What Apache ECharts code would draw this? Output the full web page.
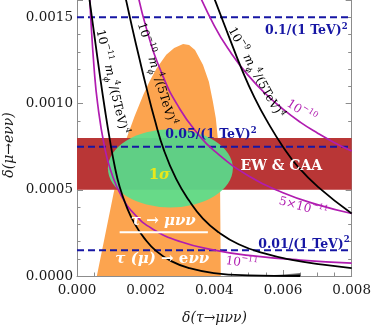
<!DOCTYPE html>
<html><head><meta charset="utf-8">
<script src="https://cdn.jsdelivr.net/npm/echarts@6/dist/echarts.min.js"></script>
<style>html,body{margin:0;padding:0;background:#fff}#c{width:374px;height:326px}</style>
</head><body><div id="c"></div>
<script>
// ---------- data ----------
const xRange = [0, 0.008];
const yRange = [0, 0.0016];
const xTickStep = 0.002;
const yTickStep = 0.0005;

const ewBand = [0.0005, 0.0008];            // EW & CAA band in delta(mu->e nu nu)
const dashedLevels = [0.00015, 0.00075, 0.0015];
const ellipseCenter = [0.00272, 0.000624];  // 1 sigma region
const ellipseRadius = [0.00182, 0.000227];

const orangeRegion = [
  [0.000578, 0], [0.001069, 0.000483], [0.001444, 0.000799], [0.001675, 0.000925],
  [0.001935, 0.001052], [0.002108, 0.001126], [0.002311, 0.001201], [0.002599, 0.001282],
  [0.00283, 0.001322], [0.00309, 0.001345], [0.003264, 0.001339], [0.003437, 0.00131],
  [0.003668, 0.001224], [0.003841, 0.001126], [0.003957, 0.001011], [0.004043, 0.000914],
  [0.004101, 0.000799], [0.004159, 0.000724], [0.004188, 0]
];

const black1e11 = [
  [0.000297, 0.0017], [0.000375, 0.001586], [0.00052, 0.001374], [0.000664, 0.001167],
  [0.000809, 0.000971], [0.000953, 0.000793], [0.001097, 0.000638], [0.001242, 0.000517],
  [0.001444, 0.000402], [0.001675, 0.000305], [0.001964, 0.000218], [0.00231, 0.000144],
  [0.002744, 0.0000862], [0.003264, 0.000046], [0.003986, 0.0000172], [0.004996, 0.000004],
  [0.0065, 0]
];
const black1e11Tail = [[0.0053, 0], [0.0065, 0], [0.0065, 0.000016]];
const black1e10 = [
  [0.001314, 0.0017], [0.001444, 0.001586], [0.001617, 0.001431], [0.001819, 0.001259],
  [0.002022, 0.001092], [0.002253, 0.000914], [0.002542, 0.000724], [0.002888, 0.000563],
  [0.003264, 0.000437], [0.003668, 0.000333], [0.00413, 0.000253], [0.004708, 0.000184],
  [0.00543, 0.000132], [0.006296, 0.000092], [0.007162, 0.0000661], [0.008, 0.000046]
];
const black1e9 = [
  [0.003821, 0.0017], [0.004043, 0.001586], [0.004419, 0.001391], [0.004794, 0.001201],
  [0.00517, 0.001034], [0.005574, 0.000885], [0.006007, 0.000747], [0.00644, 0.000632],
  [0.007018, 0.000517], [0.008, 0.000362]
];
const magenta1e11 = [
  [0.00035, 0.001714], [0.0004, 0.0015], [0.0005, 0.0012], [0.0006, 0.001],
  [0.0008, 0.00075], [0.001, 0.0006], [0.0013, 0.000462], [0.0017, 0.000353],
  [0.0022, 0.000273], [0.003, 0.0002], [0.004, 0.00015], [0.005, 0.00012],
  [0.0065, 0.0000923], [0.008, 0.000075]
];
const magenta5e11 = [
  [0.0017, 0.001706], [0.002, 0.00145], [0.0025, 0.00116], [0.003, 0.000967],
  [0.0035, 0.000829], [0.004, 0.000725], [0.005, 0.00058], [0.006, 0.000483],
  [0.007, 0.000414], [0.008, 0.0003625]
];
const magenta1e10 = [
  [0.0034, 0.001706], [0.004, 0.00145], [0.0045, 0.001289], [0.005, 0.00116],
  [0.0055, 0.001055], [0.006, 0.000967], [0.0065, 0.000892], [0.007, 0.000829],
  [0.0075, 0.000773], [0.008, 0.000725]
];
const underline = [[0.001242, 0.000253], [0.003812, 0.000253]];

// ---------- styling ----------
const SERIF = 'DejaVu Serif';
const BLACK = '#000';
const MAGENTA = '#b01cb0';
const BLUE = '#1616a4';
const RICH = {
  n: {fontFamily: SERIF, fontSize: 12, lineHeight: 18},
  i: {fontFamily: SERIF, fontSize: 12, fontStyle: 'italic', lineHeight: 18},
  sp: {fontFamily: SERIF, fontSize: 8, lineHeight: 9, verticalAlign: 'top'},
  sb: {fontFamily: SERIF, fontSize: 8, fontStyle: 'italic', lineHeight: 9, verticalAlign: 'bottom'},
  b: {fontFamily: SERIF, fontSize: 12.5, fontWeight: 'bold', lineHeight: 18},
  bs: {fontFamily: SERIF, fontSize: 8.5, fontWeight: 'bold', lineHeight: 9, verticalAlign: 'top'},
  ew: {fontFamily: SERIF, fontSize: 14, fontWeight: 'bold', lineHeight: 18},
  sig: {fontFamily: SERIF, fontSize: 15, fontWeight: 'bold', lineHeight: 18},
  t: {fontFamily: SERIF, fontSize: 15, fontStyle: 'italic', fontWeight: 'bold', lineHeight: 18},
  tb: {fontFamily: SERIF, fontSize: 15, fontWeight: 'bold', lineHeight: 18}
};
const curveLabel = e => '{n|10}{sp|' + e + '}{n| }{i|m}{sb|ϕ}{sp|4}{n|/(5TeV)}{sp|4}';
const annotations = [
  {x: 0.00101, y: 0.001126, rot: -77, text: curveLabel('−11'), fill: BLACK},
  {x: 0.00231, y: 0.001172, rot: -73, text: curveLabel('−10'), fill: BLACK},
  {x: 0.0052, y: 0.001178, rot: -61, text: curveLabel('−9'), fill: BLACK},
  {x: 0.006527, y: 0.000954, rot: -33, text: '{n|10}{sp|−10}', fill: MAGENTA},
  {x: 0.006585, y: 0.000397, rot: -15, text: '{n|5×10}{sp|−11}', fill: MAGENTA},
  {x: 0.004794, y: 0.0000747, rot: -8, text: '{n|10}{sp|−11}', fill: MAGENTA},
  {x: 0.00788, y: 0.00142, rot: 0, text: '{b|0.1/(1 TeV)}{bs|2}', fill: BLUE, align: 'right'},
  {x: 0.00523, y: 0.000816, rot: 0, text: '{b|0.05/(1 TeV)}{bs|2}', fill: BLUE, align: 'right'},
  {x: 0.00794, y: 0.000184, rot: 0, text: '{b|0.01/(1 TeV)}{bs|2}', fill: BLUE, align: 'right'},
  {x: 0.00595, y: 0.000638, rot: 0, text: '{ew|EW & CAA}', fill: '#fff'},
  {x: 0.0024, y: 0.000586, rot: 0, text: '{sig|1}{t|σ}', fill: '#e8e81a'},
  {x: 0.002513, y: 0.000316, rot: 0, text: '{t|τ → μνν}', fill: '#fff'},
  {x: 0.002484, y: 0.0000977, rot: 0, text: '{t|τ (μ) → }{tb|e}{t|νν}', fill: '#fff'}
];

const axisGray = '#8c8c8c';
function curve(data, color, w) {
  return {type: 'line', data: data, showSymbol: false, smooth: 0.5,
    lineStyle: {color: color, width: w}, z: 5, silent: true};
}

const chart = echarts.init(document.getElementById('c'), null, {renderer: 'canvas'});
const series = [
  {type: 'custom', z: 1, silent: true, data: [[0, 0]],
    renderItem: (p, api) => ({type: 'polygon',
      shape: {points: orangeRegion.map(q => api.coord(q))}, style: {fill: '#fca44f'}})},
  {type: 'custom', z: 2, silent: true, data: [[0, 0]],
    renderItem: (p, api) => {
      const a = api.coord([xRange[0], ewBand[1]]), b = api.coord([xRange[1], ewBand[0]]);
      return {type: 'rect', shape: {x: a[0], y: a[1], width: b[0] - a[0], height: b[1] - a[1]},
        style: {fill: '#b93636'}};
    }},
  {type: 'custom', z: 3, silent: true, data: [[0, 0]],
    renderItem: (p, api) => {
      const c = api.coord(ellipseCenter), s = api.size(ellipseRadius);
      return {type: 'circle', x: c[0], y: c[1], scaleY: s[1] / s[0],
        shape: {cx: 0, cy: 0, r: s[0]}, style: {fill: 'rgba(86,224,142,0.9)'}};
    }},
  {type: 'custom', z: 5, silent: true, data: [[0, 0]],
    renderItem: (p, api) => ({type: 'polygon',
      shape: {points: black1e11Tail.map(q => api.coord(q))},
      style: {fill: new echarts.graphic.LinearGradient(0, 0, 1, 0,
        [{offset: 0, color: 'rgba(60,60,60,0)'}, {offset: 1, color: 'rgba(40,40,40,0.9)'}])}})},
  ...dashedLevels.map(v => ({type: 'line', z: 4, silent: true, showSymbol: false,
    data: [[xRange[0], v], [xRange[1], v]], lineStyle: {color: BLUE, width: 2, type: [7, 4]}})),
  curve(magenta1e11, MAGENTA, 1.7),
  curve(magenta5e11, MAGENTA, 1.7),
  curve(magenta1e10, MAGENTA, 1.7),
  curve(black1e11, BLACK, 1.8),
  curve(black1e10, BLACK, 1.8),
  curve(black1e9, BLACK, 1.8),
  {type: 'line', z: 6, silent: true, showSymbol: false, data: underline,
    lineStyle: {color: '#fff', width: 2}},
  {type: 'custom', z: 7, silent: true, data: annotations.map(a => [a.x, a.y]),
    renderItem: (p, api) => {
      const a = annotations[p.dataIndex];
      const c = api.coord([a.x, a.y]);
      return {type: 'text', x: c[0], y: c[1], rotation: a.rot * Math.PI / 180,
        style: {text: a.text, rich: RICH, fill: a.fill, align: a.align || 'center', verticalAlign: 'middle'}};
    }}
];

const tickCommon = {
  axisLine: {show: true, onZero: false, lineStyle: {color: axisGray, width: 1}},
  axisTick: {show: true, inside: true, length: 6, lineStyle: {color: axisGray}},
  splitLine: {show: false}
};
chart.setOption({
  animation: false,
  grid: {left: 77, right: 20, top: -2.4, bottom: 50},
  xAxis: [Object.assign({
    type: 'value', min: xRange[0], max: xRange[1], interval: xTickStep,
    minorTick: {show: true, splitNumber: 4, length: 3.5, lineStyle: {color: axisGray}},
    axisLabel: {formatter: v => v.toFixed(3), fontFamily: SERIF, fontSize: 13.5, color: '#1a1a1a', margin: 7}
  }, tickCommon)],
  yAxis: [Object.assign({
    type: 'value', min: yRange[0], max: yRange[1], interval: yTickStep,
    minorTick: {show: true, splitNumber: 5, length: 3.5, lineStyle: {color: axisGray}},
    axisLabel: {formatter: v => v.toFixed(4), fontFamily: SERIF, fontSize: 13.5, color: '#1a1a1a', margin: 4, showMaxLabel: false}
  }, tickCommon), Object.assign({
    type: 'value', position: 'right', min: yRange[0], max: yRange[1], interval: yTickStep,
    minorTick: {show: true, splitNumber: 5, length: 3.5, lineStyle: {color: axisGray}},
    axisLabel: {show: false}
  }, tickCommon)],
  graphic: [
    {type: 'text', left: 182, top: 311, style: {text: 'δ(τ→μνν)', fontFamily: SERIF, fontStyle: 'italic', fontSize: 14, fill: '#1a1a1a'}},
    {type: 'text', x: 9, y: 145, rotation: Math.PI / 2,
      style: {text: 'δ(μ→eνν)', fontFamily: SERIF, fontStyle: 'italic', fontSize: 14, fill: '#1a1a1a', align: 'center', verticalAlign: 'middle'}}
  ],
  series: series
});
</script></body></html>
